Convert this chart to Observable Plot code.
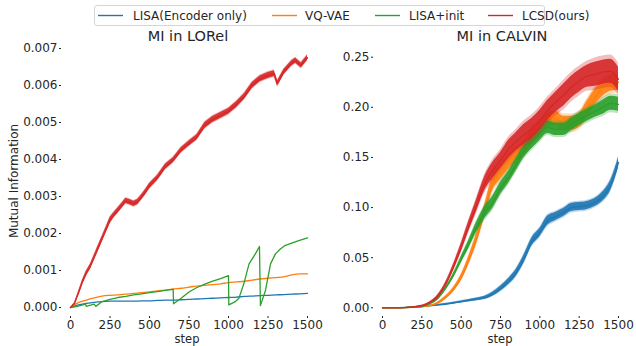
<!DOCTYPE html>
<html><head><meta charset="utf-8">
<script src="https://cdn.jsdelivr.net/npm/d3@7"></script>
<script src="https://cdn.jsdelivr.net/npm/@observablehq/plot@0.6"></script>
<style>
body{margin:0;background:#fff;font-family:"DejaVu Sans",sans-serif;color:#262626}
#root{position:relative;width:636px;height:346px;overflow:hidden}
.abs{position:absolute;white-space:nowrap;line-height:1}
.panel{position:absolute;top:0}
</style></head><body><div id="root"></div>
<script>
// ---------- data ----------
const methods = ["LISA(Encoder only)", "VQ-VAE", "LISA+init", "LCSD(ours)"];
const xTicks = [0, 250, 500, 750, 1000, 1250, 1500];
const lorelYTicks = [0, 0.001, 0.002, 0.003, 0.004, 0.005, 0.006, 0.007];
const calvinYTicks = [0, 0.05, 0.10, 0.15, 0.20, 0.25];

const steps50 = [0,50,100,150,200,250,300,350,400,450,500,550,600,650,700,750,800,850,900,950,1000,1050,1100,1150,1200,1250,1300,1350,1400,1450,1500];

// MI in LORel
const lorelBlue = [0,0.00007,0.00011,0.00014,0.00016,0.00017,0.00017,0.00017,0.00017,0.00018,0.00018,0.00019,0.0002,0.0002,0.00021,0.00022,0.00023,0.00024,0.00025,0.00026,0.00027,0.00028,0.0003,0.00031,0.00032,0.00033,0.00034,0.00035,0.00036,0.00037,0.00038];
const lorelOrange = [0,0.00013,0.0002,0.00026,0.00031,0.00033,0.00034,0.00036,0.00038,0.0004,0.00042,0.00045,0.00047,0.0005,0.00052,0.00055,0.00058,0.0006,0.00062,0.00064,0.00067,0.00069,0.00071,0.00074,0.00077,0.00079,0.00081,0.00083,0.00088,0.00091,0.00091];
const lorelGreenSteps = [0,50,95,100,150,160,200,250,300,350,400,450,500,550,600,650,652,700,750,800,850,900,950,1000,1002,1040,1065,1097,1130,1170,1196,1202,1234,1266,1297,1330,1360,1400,1445,1500];
const lorelGreen = [0,0.00004,0.00009,0.00003,0.00009,0.00003,0.00016,0.00022,0.00027,0.0003,0.00034,0.00037,0.0004,0.00043,0.00046,0.00049,0.0001,0.00025,0.00042,0.00054,0.00063,0.00071,0.00078,0.00086,0.00007,0.00015,0.00024,0.00064,0.00118,0.00145,0.00165,0.00005,0.00046,0.00118,0.00145,0.00159,0.00168,0.00174,0.00181,0.00188];
const lorelRedSteps = [0,25,50,75,100,125,150,175,200,225,250,275,300,325,350,375,400,425,450,475,500,550,600,650,700,750,800,850,900,950,1000,1050,1100,1150,1200,1250,1290,1310,1350,1400,1425,1460,1500];
const lorelRed = [0,0.0001,0.00038,0.00068,0.00092,0.0011,0.00135,0.0016,0.00185,0.0021,0.00235,0.0025,0.00262,0.00275,0.00288,0.00285,0.0028,0.00285,0.00298,0.00312,0.00328,0.0035,0.0038,0.00398,0.00425,0.00443,0.0046,0.00492,0.00508,0.00519,0.0053,0.00548,0.0057,0.006,0.00618,0.00627,0.00632,0.00605,0.00636,0.0066,0.00667,0.00654,0.00675];
const lorelRedNoise = [0,0.00002,0.00004,0.00005,0.00006,0.00006,0.00006,0.00007,0.00007,0.00007,0.00008,0.00007,0.00007,0.00007,0.00007,0.00007,0.00007,0.00007,0.00007,0.00007,0.00007,0.00007,0.00007,0.00007,0.00007,0.00007,0.00007,0.00008,0.00008,0.00008,0.00008,0.00008,0.00008,0.00008,0.00008,0.00008,0.00008,0.00007,0.00007,0.00007,0.00007,0.00007,0.00007];

// MI in CALVIN
const calvinBlue = [0,0.0001,0.0002,0.0004,0.0008,0.0013,0.002,0.0027,0.0035,0.0047,0.006,0.0072,0.0085,0.01,0.0135,0.019,0.026,0.035,0.049,0.066,0.075,0.087,0.091,0.095,0.1,0.101,0.102,0.105,0.111,0.122,0.145];
const calvinBlueNoise = [0,0,0,0,0.0003,0.0004,0.0005,0.0006,0.0007,0.0008,0.0009,0.001,0.0012,0.0015,0.002,0.0025,0.003,0.0035,0.004,0.004,0.004,0.0045,0.004,0.004,0.004,0.004,0.004,0.004,0.0045,0.005,0.005];
const calvinOrange = [0,0,0,0.0002,0.0006,0.001,0.002,0.0045,0.01,0.018,0.03,0.048,0.07,0.097,0.124,0.135,0.145,0.153,0.16,0.171,0.179,0.187,0.189,0.184,0.184,0.187,0.198,0.21,0.219,0.224,0.225];
const calvinOrangeNoise = [0,0,0,0,0.0002,0.0003,0.0005,0.001,0.0015,0.002,0.003,0.004,0.005,0.006,0.007,0.007,0.007,0.007,0.007,0.007,0.007,0.007,0.007,0.007,0.007,0.007,0.008,0.008,0.008,0.008,0.008];
const calvinGreen = [0,0,0,0.0003,0.0007,0.0012,0.004,0.009,0.019,0.032,0.048,0.064,0.081,0.095,0.105,0.119,0.13,0.143,0.156,0.165,0.173,0.18,0.178,0.178,0.183,0.188,0.192,0.196,0.2,0.204,0.203];
const calvinGreenNoise = [0,0,0,0,0.0003,0.0005,0.0008,0.001,0.0015,0.002,0.003,0.004,0.005,0.006,0.006,0.006,0.006,0.006,0.006,0.006,0.006,0.006,0.006,0.006,0.006,0.006,0.006,0.006,0.007,0.007,0.007];
const calvinRed = [0,0,0,0.0003,0.0008,0.002,0.005,0.011,0.023,0.04,0.06,0.082,0.103,0.124,0.137,0.147,0.158,0.166,0.173,0.179,0.187,0.197,0.205,0.212,0.22,0.226,0.231,0.233,0.235,0.236,0.228];
const calvinRedNoise = [0,0,0,0,0.0003,0.0005,0.0008,0.0015,0.002,0.003,0.004,0.005,0.006,0.007,0.008,0.008,0.009,0.009,0.01,0.01,0.01,0.01,0.01,0.011,0.011,0.011,0.011,0.012,0.012,0.012,0.012];

// ---------- styling ----------
const colors = ["#1f77b4", "#ff7f0e", "#2ca02c", "#d62728"];

function rows(steps, vals, noise) {
  return steps.map((s, i) => {
    const n = noise ? (noise[i] || 0) : 0;
    return {step: s, mi: vals[i], lo: vals[i] - n, hi: vals[i] + n,
            lo2: vals[i] - 1.35 * n, hi2: vals[i] + 1.35 * n};
  });
}

function seriesMarks(r, color, band, curve) {
  const m = [];
  if (band) {
    m.push(Plot.areaY(r, {x: "step", y1: "lo2", y2: "hi2", fill: color, fillOpacity: 0.3, curve}));
    m.push(Plot.areaY(r, {x: "step", y1: "lo", y2: "hi", fill: color, fillOpacity: 0.9, curve}));
  }
  m.push(Plot.line(r, {x: "step", y: "mi", stroke: color, strokeWidth: 1.3, curve}));
  return m;
}

function panel(opts) {
  return Plot.plot({
    width: 318, height: 346,
    marginLeft: opts.marginLeft, marginBottom: 30, marginTop: 45, marginRight: 8,
    style: {fontFamily: "DejaVu Sans", fontSize: "12px", color: "#262626", background: "transparent", overflow: "visible"},
    x: {domain: [0, 1500], range: opts.xRange},
    y: {domain: opts.yDomain, range: opts.yRange},
    marks: [
      Plot.axisX({ticks: xTicks, tickSize: 2, tickPadding: 2, label: null, tickFormat: d3.format("d")}),
      Plot.axisY({ticks: opts.yTicks, tickSize: 2, tickPadding: 2, label: null, tickFormat: d3.format(opts.fmt)}),
      ...opts.marks
    ]
  });
}

const left = panel({
  marginLeft: 61, xRange: [70, 307], yDomain: [0, 0.007], yRange: [307, 48],
  yTicks: lorelYTicks, fmt: ".3f",
  marks: [
    ...seriesMarks(rows(steps50, lorelBlue), colors[0], false, "monotone-x"),
    ...seriesMarks(rows(steps50, lorelOrange), colors[1], false, "monotone-x"),
    ...seriesMarks(rows(lorelGreenSteps, lorelGreen), colors[2], false, "linear"),
    ...seriesMarks(rows(lorelRedSteps, lorelRed, lorelRedNoise), colors[3], true, "linear")
  ]
});
const right = panel({
  marginLeft: 55, xRange: [64, 300], yDomain: [0, 0.25], yRange: [307.3, 56.7],
  yTicks: calvinYTicks, fmt: ".2f",
  marks: [
    ...seriesMarks(rows(steps50, calvinBlue, calvinBlueNoise), colors[0], true, "monotone-x"),
    ...seriesMarks(rows(steps50, calvinOrange, calvinOrangeNoise), colors[1], true, "monotone-x"),
    ...seriesMarks(rows(steps50, calvinGreen, calvinGreenNoise), colors[2], true, "monotone-x"),
    ...seriesMarks(rows(steps50, calvinRed, calvinRedNoise), colors[3], true, "monotone-x")
  ]
});

const root = document.getElementById("root");
left.classList.add("panel"); left.style.left = "0px";
right.classList.add("panel"); right.style.left = "318px";
root.appendChild(left); root.appendChild(right);

function label(text, x, y, size, extra) {
  const d = document.createElement("div");
  d.className = "abs";
  d.textContent = text;
  d.style.left = x + "px"; d.style.top = y + "px";
  d.style.fontSize = size + "px";
  d.style.transform = "translate(-50%,-50%)" + (extra || "");
  root.appendChild(d);
}
label("MI in LORel", 188, 35.5, 14.5);
label("MI in CALVIN", 502, 35.5, 14.5);
label("step", 187, 339.5, 11.5);
label("step", 500, 339.5, 11.5);
label("Mutual Information", 14, 181, 12, " rotate(-90deg)");

// legend
const lg = document.createElement("div");
lg.className = "abs";
Object.assign(lg.style, {left: "94px", top: "5px", width: "451px", height: "21px", border: "1px solid #d5d5d5", borderRadius: "3px", background: "rgba(255,255,255,0.8)", boxSizing: "border-box"});
root.appendChild(lg);
const lineX = [98, 272, 375, 488];
const textX = [133, 305, 409, 522];
const svgNS = "http://www.w3.org/2000/svg";
const lsvg = document.createElementNS(svgNS, "svg");
lsvg.setAttribute("width", "636"); lsvg.setAttribute("height", "30");
lsvg.style.position = "absolute"; lsvg.style.left = "0px"; lsvg.style.top = "0px";
root.appendChild(lsvg);
methods.forEach((m, i) => {
  const ln = document.createElementNS(svgNS, "line");
  ln.setAttribute("x1", lineX[i]); ln.setAttribute("x2", lineX[i] + 25);
  ln.setAttribute("y1", 15.5); ln.setAttribute("y2", 15.5);
  ln.setAttribute("stroke", colors[i]); ln.setAttribute("stroke-width", "1.4");
  lsvg.appendChild(ln);
  const t = document.createElement("div");
  t.className = "abs";
  Object.assign(t.style, {left: textX[i] + "px", top: "16px", fontSize: "12px", transform: "translateY(-50%)"});
  t.textContent = m;
  root.appendChild(t);
});
</script></body></html>
